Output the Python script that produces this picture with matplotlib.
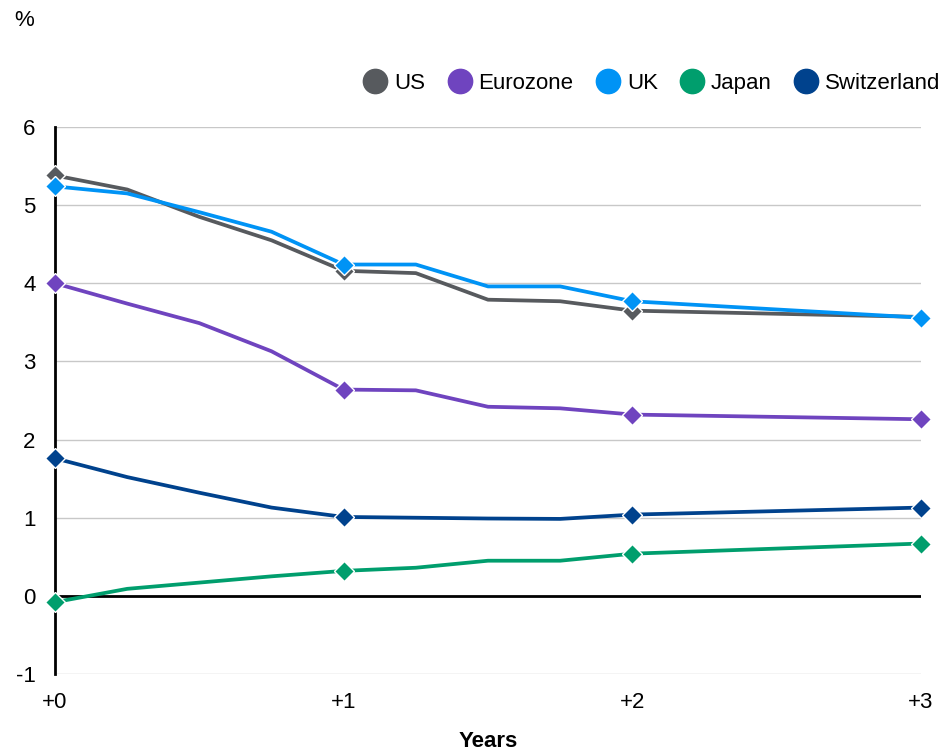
import matplotlib
matplotlib.use("Agg")
import matplotlib.pyplot as plt
from matplotlib.lines import Line2D

plt.rcParams["font.family"] = ["Liberation Sans", "DejaVu Sans"]
plt.rcParams["axes.unicode_minus"] = False

# years ahead, quarterly to +2 then a single point at +3
years = [0, 0.25, 0.5, 0.75, 1, 1.25, 1.5, 1.75, 2, 3]
us = [5.38, 5.20, 4.85, 4.55, 4.16, 4.13, 3.79, 3.77, 3.65, 3.57]
eurozone = [4.00, 3.74, 3.49, 3.13, 2.64, 2.63, 2.42, 2.40, 2.32, 2.26]
uk = [5.24, 5.15, 4.91, 4.66, 4.24, 4.24, 3.96, 3.96, 3.77, 3.56]
japan = [-0.08, 0.09, 0.17, 0.25, 0.32, 0.36, 0.45, 0.45, 0.54, 0.67]
switzerland = [1.76, 1.52, 1.32, 1.13, 1.01, 1.00, 0.99, 0.985, 1.04, 1.13]

marker_idx = [0, 4, 8, 9]
xticks = [0, 1, 2, 3]
xtick_labels = ["+0", "+1", "+2", "+3"]

series = [
    ("US", us, "#575A5E"),
    ("Eurozone", eurozone, "#6F44BF"),
    ("UK", uk, "#0093F5"),
    ("Japan", japan, "#009E6D"),
    ("Switzerland", switzerland, "#00428D"),
]

fig = plt.figure(figsize=(9.44, 7.51), dpi=100)
ax = fig.add_axes([0.0583, 0.1025, 0.9173, 0.7284])

for name, vals, color in series:
    ax.plot(years, vals, color=color, lw=2.7, marker="D", markersize=10,
            markevery=marker_idx, markeredgecolor="white", markeredgewidth=1,
            clip_on=False, zorder=3)

ax.set_xlim(0, 3)
ax.set_ylim(-1, 6)
ax.set_yticks(range(-1, 7))
ax.set_xticks(xticks)
ax.set_xticklabels(xtick_labels)
ax.grid(axis="y", color="#C8C8C8", lw=1)
ax.set_axisbelow(True)
ax.axhline(0, color="black", lw=2, zorder=2)
for s in ["top", "right", "bottom"]:
    ax.spines[s].set_visible(False)
ax.spines["left"].set_linewidth(2)
ax.spines["left"].set_zorder(2)
ax.tick_params(axis="both", length=0, labelsize=16)
ax.tick_params(axis="y", pad=14)
ax.tick_params(axis="x", pad=13)
ax.set_xlabel("Years", fontsize=16, fontweight="bold", labelpad=13)

fig.text(0.015, 0.973, "%", fontsize=16, va="center", ha="left")

handles = [Line2D([], [], ls="none", marker="o", markersize=17.5, color=c)
           for _, _, c in series]
fig.legend(handles, [n for n, _, _ in series], loc="center right",
           bbox_to_anchor=(1.013, 0.889), ncol=5, frameon=False, fontsize=16,
           handletextpad=0.3, columnspacing=1.0, handlelength=1.1,
           borderpad=0.2)

fig.savefig("out.png", dpi=100)
